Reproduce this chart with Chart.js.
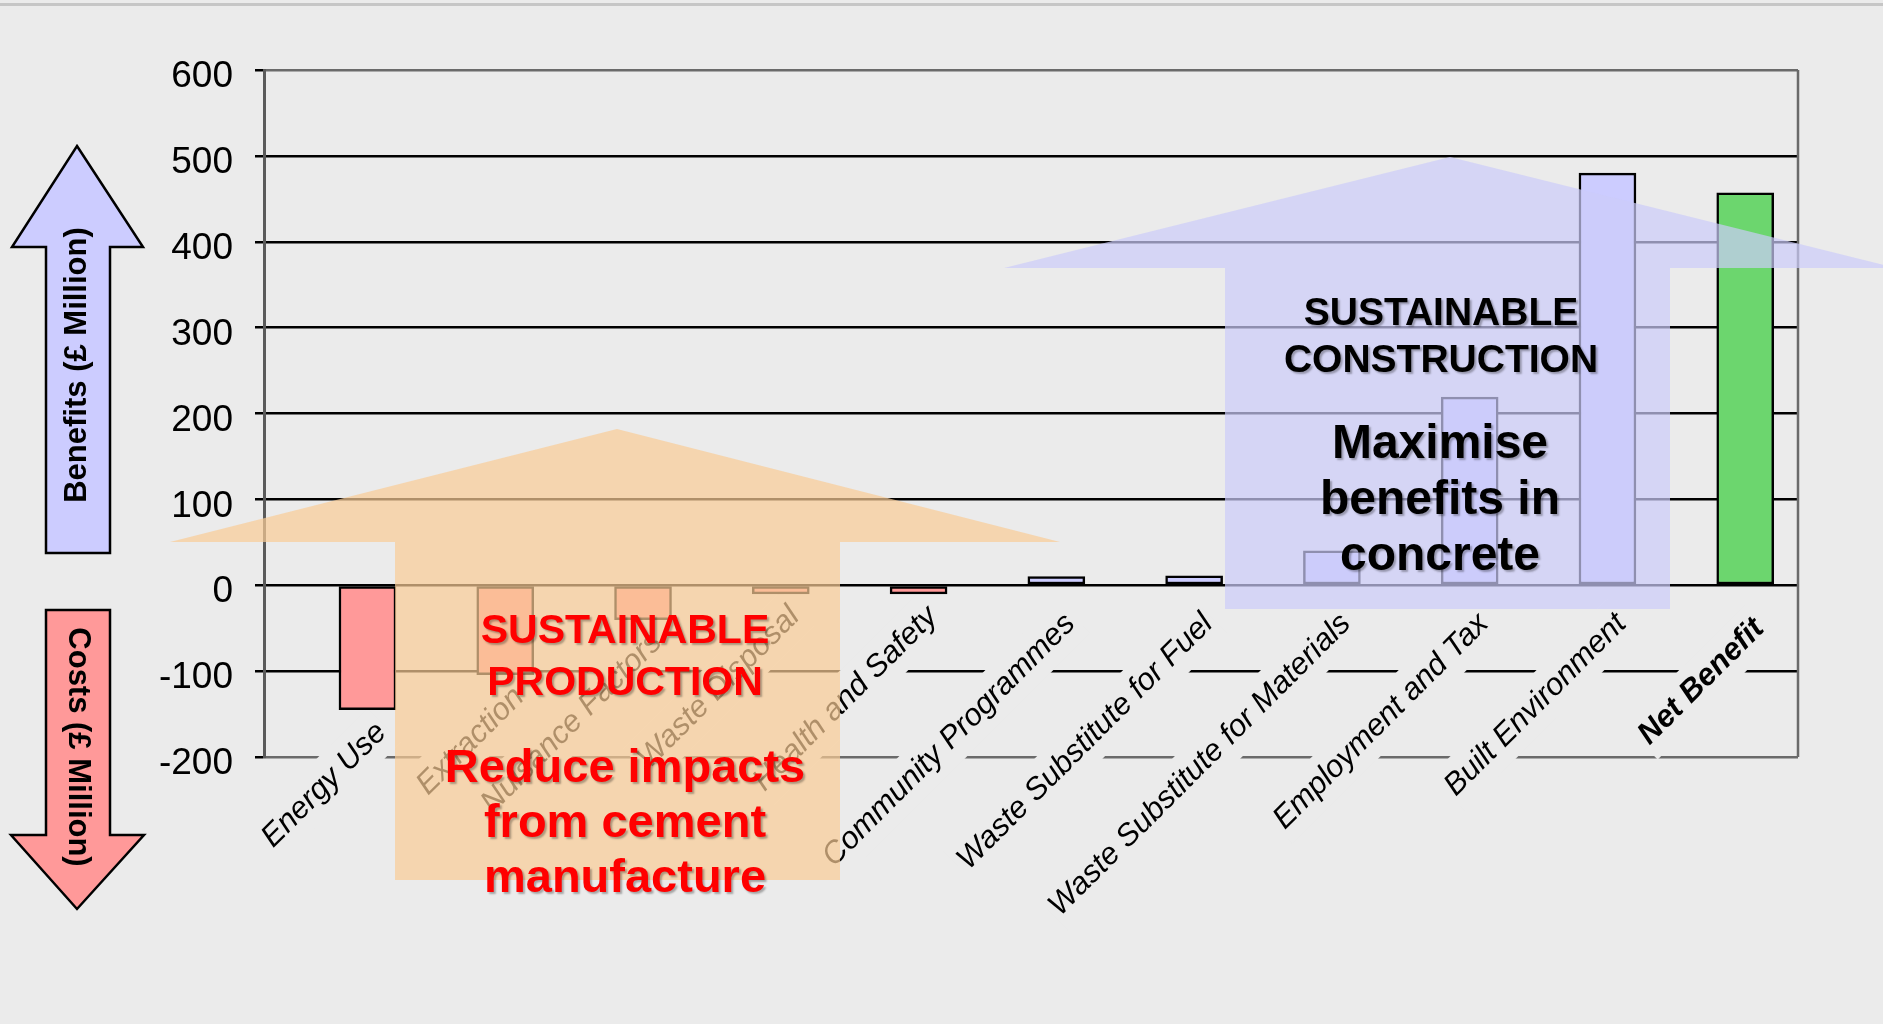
<!DOCTYPE html>
<html>
<head>
<meta charset="utf-8">
<script src="https://cdn.jsdelivr.net/npm/chart.js@4.4.1/dist/chart.umd.min.js"></script>
<style>
    html, body { margin: 0; padding: 0; background: #ebebeb; overflow: hidden; }
    #topline { position: absolute; left: 0; top: 3px; width: 1883px; height: 3px; background: #c6c6c6; }
    #box { position: absolute; left: 0; top: 0; width: 1883px; height: 1024px; }
</style>
</head>
<body>
<div id="topline"></div>
<div id="box"><canvas id="costChart"></canvas></div>
<script>
var categories = ['Energy Use', 'Extraction', 'Nuisance Factors', 'Waste Disposal', 'Health and Safety',
    'Community Programmes', 'Waste Substitute for Fuel', 'Waste Substitute for Materials',
    'Employment and Tax', 'Built Environment', 'Net Benefit'];
var values = [-145, -104, -40, -10, -10, 10, 11, 40, 219, 480, 457];
var yTicks = [-200, -100, 0, 100, 200, 300, 400, 500, 600];

var benefitLabel = 'Benefits (£ Million)';
var costLabel = 'Costs (£ Million)';
var productionTitle = ['SUSTAINABLE', 'PRODUCTION'];
var productionAim = ['Reduce impacts', 'from cement', 'manufacture'];
var constructionTitle = ['SUSTAINABLE', 'CONSTRUCTION'];
var constructionAim = ['Maximise', 'benefits in', 'concrete'];

var FONT = '"Liberation Sans", Arial, sans-serif';
var BG = '#ebebeb';

function barColour(i) {
    if (i === categories.length - 1) return '#6cd66e';
    return values[i] < 0 ? '#ff9999' : '#ccccff';
}

// big translucent "house" arrows and the side arrows (decoration, canvas px)
var orangeArrow = [[170, 542], [617, 429], [1060, 542], [840, 542], [840, 880], [395, 880], [395, 542]];
var blueArrow = [[1004, 268], [1450, 157], [1896, 268], [1670, 268], [1670, 609], [1225, 609], [1225, 268]];
var upArrow = [[77, 146], [143, 247], [110, 247], [110, 553], [46, 553], [46, 247], [12, 247]];
var downArrow = [[46, 610], [110, 610], [110, 835], [144, 835], [77, 909], [11, 835], [46, 835]];

function shape(ctx, pts) {
    ctx.beginPath();
    pts.forEach(function (p, i) {
        if (i) ctx.lineTo(p[0], p[1]); else ctx.moveTo(p[0], p[1]);
    });
    ctx.closePath();
}

function lines(ctx, list, x, y0, step) {
    list.forEach(function (t, i) { ctx.fillText(t, x, y0 + i * step); });
}

var decor = {
    id: 'decor',
    beforeDatasetsDraw: function (chart) {
        var ctx = chart.ctx, area = chart.chartArea;
        ctx.save();
        ctx.strokeStyle = '#6a6a6a';
        ctx.lineWidth = 2.5;
        ctx.beginPath();
        ctx.moveTo(area.right, area.top);
        ctx.lineTo(area.right, area.bottom);
        ctx.stroke();
        ctx.restore();

        // category labels hang under each bar, with a backdrop that cuts the grid lines
        var meta = chart.getDatasetMeta(0);
        meta.data.forEach(function (bar, i) {
            var last = i === categories.length - 1;
            var y = values[i] < 0 ? bar.y + 18 : bar.base + (last ? 40 : 35);
            ctx.save();
            ctx.translate(bar.x + 14, y);
            ctx.rotate(-Math.PI / 4);
            ctx.font = (last ? 'italic bold ' : 'italic ') + '31px ' + FONT;
            ctx.textAlign = 'right';
            ctx.textBaseline = 'middle';
            var w = ctx.measureText(categories[i]).width;
            ctx.fillStyle = BG;
            ctx.fillRect(-w - 4, -24, w + 8, 48);
            ctx.fillStyle = '#000';
            ctx.fillText(categories[i], 0, 0);
            ctx.restore();
        });
    },
    afterDraw: function (chart) {
        var ctx = chart.ctx;
        ctx.save();
        shape(ctx, orangeArrow);
        ctx.fillStyle = 'rgba(250, 204, 150, 0.7)';
        ctx.fill();
        shape(ctx, blueArrow);
        ctx.fillStyle = 'rgba(204, 204, 250, 0.7)';
        ctx.fill();

        ctx.shadowColor = 'rgba(0, 0, 0, 0.3)';
        ctx.shadowOffsetX = 2;
        ctx.shadowOffsetY = 2;
        ctx.shadowBlur = 2;
        ctx.textAlign = 'center';
        ctx.textBaseline = 'alphabetic';

        ctx.fillStyle = '#ff0000';
        ctx.font = 'bold 41px ' + FONT;
        lines(ctx, productionTitle, 625, 643, 52);
        ctx.font = 'bold 47px ' + FONT;
        lines(ctx, productionAim, 625, 782, 55);

        ctx.fillStyle = '#000';
        ctx.font = 'bold 39px ' + FONT;
        lines(ctx, constructionTitle, 1441, 325, 47);
        ctx.font = 'bold 48px ' + FONT;
        lines(ctx, constructionAim, 1440, 458, 56);
        ctx.restore();

        // side arrows
        ctx.save();
        ctx.lineWidth = 2.5;
        ctx.strokeStyle = '#000';
        ctx.lineJoin = 'miter';
        shape(ctx, upArrow);
        ctx.fillStyle = '#ccccff';
        ctx.fill();
        ctx.stroke();
        shape(ctx, downArrow);
        ctx.fillStyle = '#ff9999';
        ctx.fill();
        ctx.stroke();

        ctx.fillStyle = '#000';
        ctx.font = 'bold 31px ' + FONT;
        ctx.textAlign = 'center';
        ctx.textBaseline = 'middle';
        ctx.save();
        ctx.translate(77, 365);
        ctx.rotate(-Math.PI / 2);
        ctx.fillText(benefitLabel, 0, 0);
        ctx.restore();
        ctx.save();
        ctx.translate(78, 747);
        ctx.rotate(Math.PI / 2);
        ctx.fillText(costLabel, 0, 0);
        ctx.restore();
        ctx.restore();
    }
};

function createChart() {
    var el = document.getElementById('costChart').getContext('2d');

    var chart_data = values.map(function (v, i) { return { x: i, y: v }; });

    new Chart(el, {
        type: 'bar',
        data: {
            datasets: [{
                data: chart_data,
                backgroundColor: values.map(function (v, i) { return barColour(i); }),
                borderColor: '#000',
                borderWidth: 2.5,
                borderSkipped: false,
                barThickness: 57
            }]
        },
        options: {
            responsive: true,
            maintainAspectRatio: false,
            animation: false,
            layout: { padding: { top: 70, right: 85, bottom: 267, left: 0 } },
            plugins: {
                legend: { display: false },
                tooltip: { enabled: false }
            },
            scales: {
                x: {
                    type: 'linear',
                    offset: false,
                    min: -0.751,
                    max: 10.383,
                    display: false
                },
                y: {
                    min: yTicks[0],
                    max: yTicks[yTicks.length - 1],
                    afterBuildTicks: function (s) {
                        s.ticks = yTicks.map(function (v) { return { value: v }; });
                    },
                    afterFit: function (s) { s.width = 264; },
                    ticks: {
                        color: '#000',
                        padding: 22,
                        labelOffset: 7,
                        font: { family: FONT, size: 37 }
                    },
                    grid: {
                        color: function (c) {
                            var v = c.tick ? c.tick.value : 0;
                            return (v === 600 || v === -200) ? '#6a6a6a' : '#000';
                        },
                        lineWidth: 2.5,
                        tickColor: '#000',
                        tickLength: 9,
                        tickWidth: 2.5
                    },
                    border: { color: '#5a5a5a', width: 3 }
                }
            }
        },
        plugins: [decor]
    });
}

createChart();
</script>
</body>
</html>
